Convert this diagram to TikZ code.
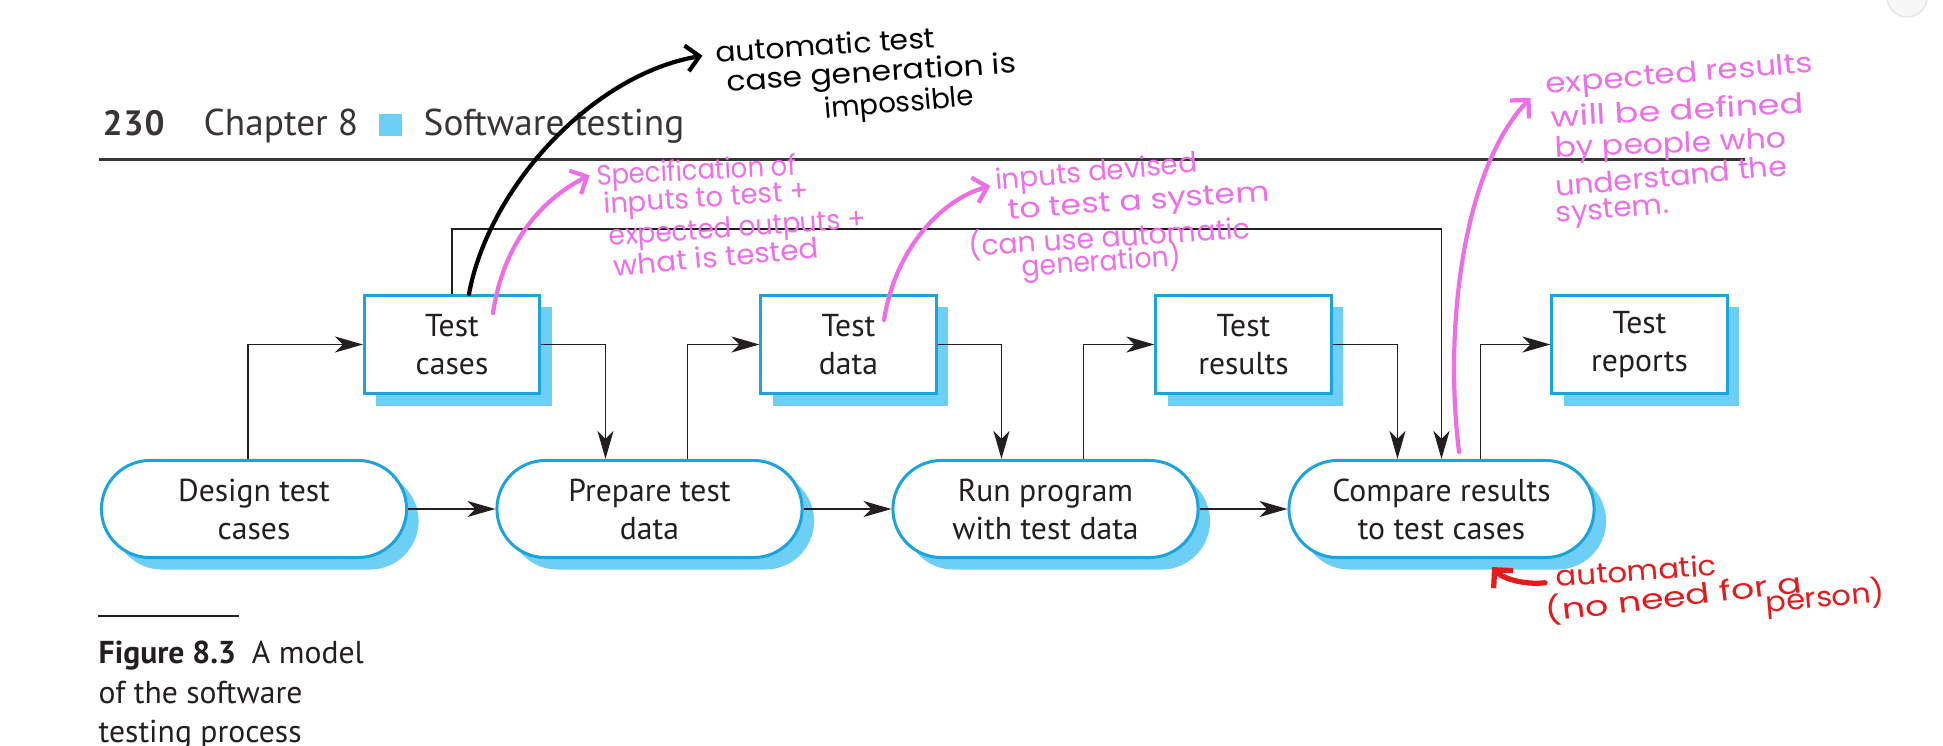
\documentclass[tikz,border=0pt]{standalone}
\usepackage{fontspec}
\setmainfont{PT Sans}
\newfontfamily\handfont{Poppins}
\usepackage{xcolor}
\usetikzlibrary{arrows.meta,shadows}

\definecolor{boxblue}{RGB}{27,163,222}
\definecolor{shadeblue}{RGB}{109,207,246}
\definecolor{inkgray}{RGB}{35,31,32}
\definecolor{penpink}{RGB}{238,110,232}
\definecolor{penred}{RGB}{228,26,28}

\begin{document}
\begin{tikzpicture}[x=0.01cm, y=-0.01cm,
  artefact/.style={draw=boxblue, line width=0.85pt, fill=white, align=center,
    inner sep=2pt, minimum width=1.75cm, minimum height=0.98cm, text=inkgray,
    font=\fontsize{9}{10.8}\selectfont,
    drop shadow={shadow xshift=0.12cm, shadow yshift=-0.12cm, fill=shadeblue, opacity=1}},
  activity/.style={artefact, rounded corners=0.485cm, minimum width=3.05cm, minimum height=0.97cm},
  flow/.style={-{Stealth[length=2.8mm, width=1.6mm, inset=0.8mm]}, line width=0.5pt, draw=inkgray},
  note/.style={anchor=base, inner sep=0pt, font=\handfont\fontsize{8}{9}\selectfont,
    transform shape, xscale=#1},
  blacknote/.style={note=#1, text=black},
  pinknote/.style={note=#1, text=penpink},
  rednote/.style={note=#1, text=penred},
  pen/.style={-{Straight Barb[length=1.3mm, width=2.6mm]}, line width=1.2pt, line cap=round, line join=round},
  header/.style={anchor=base west, inner sep=0pt, text=inkgray!90, font=\fontsize{10.6}{12}\selectfont},
  caption/.style={anchor=base west, inner sep=0pt, text=inkgray, font=\fontsize{9}{11}\selectfont}
]
\useasboundingbox (0,0) rectangle (1943,746);

\node[header, font=\bfseries\fontsize{10}{12}\selectfont\addfontfeature{LetterSpace=3}] (pagenum) at (102,136) {230};
\node[header] (chapter) at (203,136) {Chapter 8};
\node[fill=shadeblue, inner sep=0pt, minimum width=0.23cm, minimum height=0.22cm] (chmark) at (390.5,125) {};
\node[header] (chtitle) at (423,136) {Software testing};
\draw[line width=0.75pt, inkgray!90] (99,159.5) -- (1745,159.5);
\filldraw[fill=black!3, draw=black!10, line width=0.4pt] (1907,-3) circle[radius=20];

\node[artefact] (tcases) at (452,344.5) {Test\\cases};
\node[artefact] (tdata) at (848.5,344.5) {Test\\data};
\node[artefact] (tresults) at (1243.5,344.5) {Test\\results};
\node[artefact] (treports) at (1639.5,344.5) {Test\\reports};
\node[activity] (design) at (254,509) {Design test\\cases};
\node[activity] (prepare) at (649.5,509) {Prepare test\\data};
\node[activity] (run) at (1045.5,509) {Run program\\with test data};
\node[activity] (compare) at (1441.5,509) {Compare results\\to test cases};
\coordinate (loopback) at (900,229);

\draw[flow] ([xshift=-0.06cm]design.north) |- (tcases.west);
\draw[flow] (tcases.east) -| ([xshift=-0.44cm]prepare.north);
\draw[flow] ([xshift=0.38cm]prepare.north) |- (tdata.west);
\draw[flow] (tdata.east) -| ([xshift=-0.44cm]run.north);
\draw[flow] ([xshift=0.38cm]run.north) |- (tresults.west);
\draw[flow] (tresults.east) -| ([xshift=-0.44cm]compare.north);
\draw[flow] ([xshift=0.39cm]compare.north) |- (treports.west);
\draw[flow] (tcases.north) |- (loopback) -| (compare.north);
\draw[flow] (design) -- (prepare);
\draw[flow] (prepare) -- (run);
\draw[flow] (run) -- (compare);

\node[rotate=4, blacknote=1.06] (auto1) at (826,55) {automatic test};
\node[rotate=3.7, blacknote=1.12] (auto2) at (872,82) {case generation is};
\node[rotate=5, blacknote=0.98] (auto3) at (900,112) {impossible};
\draw[pen, black] ([xshift=0.17cm]tcases.north) .. controls (488,190) and (590,75) .. ([xshift=-0.13cm, yshift=0.07cm]auto1.base west);

\node[rotate=3, pinknote=0.92] (spec1) at (697,180) {Specification of};
\node[rotate=3.8, pinknote=0.98] (spec2) at (707,207) {inputs to test +};
\node[rotate=4, pinknote=0.94] (spec3) at (738,237) {expected outputs +};
\node[rotate=5.2, pinknote=1.05] (spec4) at (717,267) {what is tested};
\draw[pen, penpink] ([xshift=0.41cm, yshift=-0.19cm]tcases.north) .. controls (503,245) and (540,200) .. ([xshift=-0.07cm, yshift=0.10cm]spec1.base west);

\node[rotate=5, pinknote=0.99] (dev1) at (1097,181) {inputs devised};
\node[rotate=4, pinknote=1.17] (dev2) at (1139,210) {to test a system};
\node[rotate=3.7, pinknote=1.01] (dev3) at (1110,247) {(can use automatic};
\node[rotate=3.8, pinknote=0.95] (dev4) at (1102,271) {generation)};
\draw[pen, penpink] ([xshift=0.355cm, yshift=-0.26cm]tdata.north) .. controls (895,250) and (940,200) .. ([xshift=-0.05cm, yshift=0.04cm]dev1.base west);

\node[rotate=4.6, pinknote=1.16] (exp1) at (1680,83) {expected results};
\node[rotate=3.2, pinknote=1.25] (exp2) at (1678,120) {will be defined};
\node[rotate=2.4, pinknote=1.12] (exp3) at (1671,153) {by people who};
\node[rotate=5.2, pinknote=1.07] (exp4) at (1672,186) {understand the};
\node[rotate=4.7, pinknote=1.05] (exp5) at (1613,218) {system.};
\draw[pen, penpink] ([xshift=0.175cm, yshift=0.07cm]compare.north) .. controls (1444,330) and (1462,170) .. ([xshift=-0.15cm, yshift=-0.04cm]exp1.base west);

\node[rotate=4.1, rednote=1.09] (machine1) at (1637,581) {automatic};
\node[rotate=6.6, rednote=1.29] (machine2) at (1675,607) {(no need for a};
\node[rotate=5, rednote=1.08] (machine3) at (1826,607) {person)};
\draw[pen, penred, line width=1.5pt] ([xshift=-0.11cm, yshift=0.04cm]machine1.base west) .. controls (1522,585) and (1502,578) .. ([xshift=0.505cm, yshift=-0.08cm]compare.south);

\draw[line width=0.4pt, inkgray] (98,616) -- (239,616);
\node[caption] (cap1) at (98,663) {\textbf{Figure 8.3}\enspace A model};
\node[caption] (cap2) at (98,703) {of the software};
\node[caption] (cap3) at (98,742) {testing process};
\end{tikzpicture}
\end{document}
